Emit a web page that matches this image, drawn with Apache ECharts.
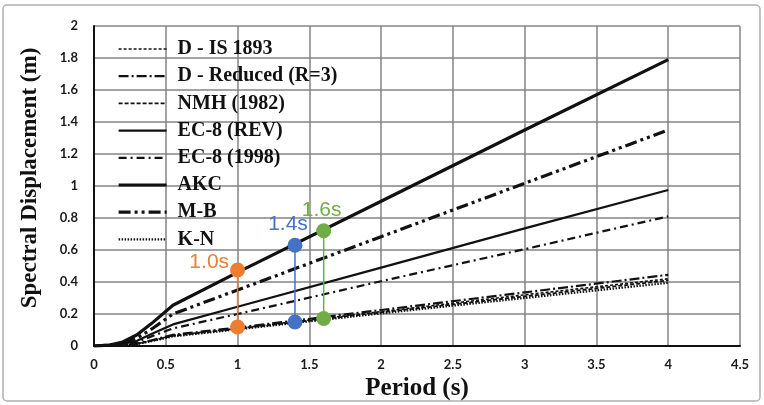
<!DOCTYPE html>
<html>
<head>
<meta charset="utf-8">
<script src="https://cdn.jsdelivr.net/npm/echarts@6/dist/echarts.min.js"></script>
<style>
  html, body { margin: 0; padding: 0; background: #fff; }
  #chart { width: 764px; height: 405px; }
</style>
</head>
<body>
<div id="chart"></div>
<script>
// Periods (s) at which the displacement spectra are sampled
const periods = [0, 0.1, 0.2, 0.3, 0.4, 0.55, 1, 2, 3, 4];

// Spectral displacement (m) for each spectrum
const dIS1893   = [0, 0.002, 0.006, 0.014, 0.033, 0.066, 0.110, 0.215, 0.320, 0.420];
const dReduced  = [0, 0.002, 0.006, 0.015, 0.035, 0.070, 0.115, 0.225, 0.335, 0.445];
const nmh1982   = [0, 0.002, 0.006, 0.014, 0.032, 0.063, 0.107, 0.210, 0.310, 0.410];
const ec8Rev    = [0, 0.003, 0.013, 0.033, 0.075, 0.135, 0.245, 0.490, 0.735, 0.975];
const ec81998   = [0, 0.002, 0.009, 0.025, 0.060, 0.110, 0.200, 0.405, 0.605, 0.810];
const akc       = [0, 0.005, 0.025, 0.070, 0.140, 0.255, 0.460, 0.905, 1.350, 1.790];
const mb        = [0, 0.004, 0.018, 0.050, 0.105, 0.200, 0.350, 0.683, 1.017, 1.350];
const kn        = [0, 0.002, 0.005, 0.013, 0.030, 0.060, 0.104, 0.204, 0.300, 0.395];

// Marked periods with their lower and upper displacement values
const markPeriods = [1.0, 1.4, 1.6];
const markLabels  = ['1.0s', '1.4s', '1.6s'];
const markLow     = [0.119, 0.150, 0.172];
const markHigh    = [0.475, 0.630, 0.720];
const markColors  = ['#ED7D31', '#4472C4', '#70AD47'];

// Axis ticks
const xTicks = { min: 0, max: 4.5, step: 0.5 };
const yTicks = { min: 0, max: 2, step: 0.2 };

const pairs = vals => periods.map((t, i) => [t, vals[i]]);

const spectra = [
  { name: 'D - IS 1893',        data: dIS1893,  width: 1.6, type: [3, 2] },
  { name: 'D - Reduced (R=3)',  data: dReduced, width: 2.2, type: [10, 3, 2, 3] },
  { name: 'NMH (1982)',         data: nmh1982,  width: 1.8, type: [4, 2] },
  { name: 'EC-8 (REV)',         data: ec8Rev,   width: 2.2, type: 'solid' },
  { name: 'EC-8 (1998)',        data: ec81998,  width: 2.2, type: [8, 4, 2, 4] },
  { name: 'AKC',                data: akc,      width: 3.2, type: 'solid' },
  { name: 'M-B',                data: mb,       width: 3.2, type: [12, 4, 3, 4, 3, 4] },
  { name: 'K-N',                data: kn,       width: 2.2, type: [1.5, 1.5] }
];

const serif = '"Liberation Serif", "DejaVu Serif", serif';
const sans = 'Lato, "Liberation Sans", sans-serif';

const series = spectra.map(s => ({
  name: s.name,
  type: 'line',
  data: pairs(s.data),
  symbol: 'none',
  silent: true,
  z: 3,
  lineStyle: { color: '#111', width: s.width, type: s.type },
  itemStyle: { color: '#111' }
}));

// Label placement around the upper dot of each marker
const markLabelPos = ['left', 'top', 'top'];
const markLabelOffset = [[0, -8], [-7, 0], [-2, 0]];

markPeriods.forEach((t, i) => {
  series.push({
    name: markLabels[i],
    type: 'line',
    data: [
      { value: [t, markLow[i]] },
      { value: [t, markHigh[i]],
        label: {
          show: true,
          formatter: markLabels[i],
          position: markLabelPos[i],
          distance: i === 0 ? 1 : 3,
          offset: markLabelOffset[i],
          color: markColors[i],
          fontFamily: '"Liberation Sans", Arial, sans-serif',
          fontSize: 21
        } }
    ],
    symbol: 'circle',
    symbolSize: 15,
    silent: true,
    z: 5,
    lineStyle: { color: markColors[i], width: 1.5 },
    itemStyle: { color: markColors[i] }
  });
});

const chart = echarts.init(document.getElementById('chart'), null, { renderer: 'canvas' });

chart.setOption({
  animation: false,
  backgroundColor: '#fff',
  graphic: [{
    type: 'rect',
    shape: { x: 3, y: 5, width: 757, height: 396, r: 4 },
    style: { fill: 'none', stroke: '#b0b0b0', lineWidth: 1.5 },
    silent: true, z: 0
  }],
  grid: { left: 94, right: 24, top: 26, bottom: 59, containLabel: false, outerBoundsMode: 'none' },
  legend: {
    data: spectra.map(s => ({ name: s.name, lineStyle: { width: s.width, type: s.type } })),
    orient: 'vertical',
    left: 112,
    top: 34,
    itemWidth: 48,
    itemHeight: 20,
    itemGap: 7.2,
    selectedMode: false,
    itemStyle: { opacity: 0 },
    textStyle: {
      fontFamily: serif,
      fontWeight: 'bold',
      fontSize: 20,
      lineHeight: 20,
      color: '#111',
      padding: [0, 0, 0, 6]
    }
  },
  xAxis: {
    type: 'value',
    min: xTicks.min,
    max: xTicks.max,
    interval: xTicks.step,
    name: 'Period (s)',
    nameLocation: 'middle',
    nameGap: 29,
    nameTextStyle: { fontFamily: serif, fontWeight: 'bold', fontSize: 25, color: '#111' },
    axisLine: { lineStyle: { color: '#111', width: 2 } },
    axisTick: { show: false },
    axisLabel: { fontFamily: sans, fontWeight: 'bold', fontSize: 13, color: '#1a1a1a', margin: 12 },
    splitLine: { show: true, lineStyle: { color: '#858585', width: 1.5 } }
  },
  yAxis: {
    type: 'value',
    min: yTicks.min,
    max: yTicks.max,
    interval: yTicks.step,
    name: 'Spectral Displacement (m)',
    nameLocation: 'middle',
    nameGap: 52,
    nameTextStyle: { fontFamily: serif, fontWeight: 'bold', fontSize: 23, color: '#111', padding: [0, 0, 0, 16] },
    axisLine: { show: true, lineStyle: { color: '#111', width: 2 } },
    axisTick: { show: false },
    axisLabel: { fontFamily: sans, fontWeight: 'bold', fontSize: 13, color: '#1a1a1a', margin: 16 },
    splitLine: { show: true, lineStyle: { color: '#858585', width: 1.5 } }
  },
  series: series
});
</script>
</body>
</html>
